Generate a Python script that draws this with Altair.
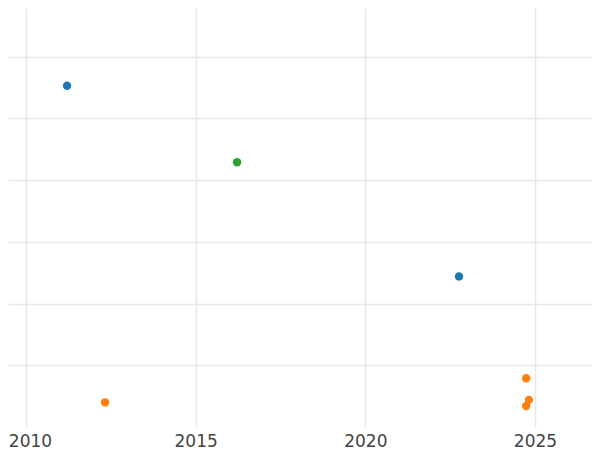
import altair as alt
import pandas as pd

years = [2011.21, 2016.22, 2022.76, 2012.33, 2024.74, 2024.82, 2024.74]
values = [5.53, 4.29, 2.44, 0.40, 0.79, 0.44, 0.34]
groups = ["A", "C", "A", "B", "B", "B", "B"]

group_names = ["A", "B", "C"]
group_colors = ["#1f77b4", "#ff7f0e", "#2ca02c"]
x_ticks = [2010, 2015, 2020, 2025]
y_grid = [1, 2, 3, 4, 5, 6]

df = pd.DataFrame({"year": years, "value": values, "group": groups})

chart = alt.Chart(df).mark_circle(size=70, opacity=1).encode(
    x=alt.X("year:Q",
            scale=alt.Scale(domain=[2009.47, 2026.68], nice=False, zero=False),
            axis=alt.Axis(values=x_ticks, format="d", title=None, ticks=False, domain=False,
                          labelFontSize=17, labelColor="#444444", labelPadding=6,
                          labelFont="DejaVu Sans", gridColor="#e8e8e8", gridWidth=1.5,
                          labelFlush=False,
                          labelOffset={"condition": {"test": "datum.value == 2010", "value": 4}, "value": 0})),
    y=alt.Y("value:Q",
            scale=alt.Scale(domain=[0, 6.79], nice=False, zero=False),
            axis=alt.Axis(values=y_grid, title=None, ticks=False, domain=False, labels=False,
                          gridColor="#e8e8e8", gridWidth=1.5)),
    color=alt.Color("group:N", scale=alt.Scale(domain=group_names, range=group_colors), legend=None),
).properties(
    width=584, height=419,
    autosize=alt.AutoSizeParams(type="none"),
    padding={"left": 0, "top": 0, "right": 0, "bottom": 23},
).configure_view(strokeWidth=0)

chart.save("out.html", embed_options={"renderer": "svg", "actions": False})
